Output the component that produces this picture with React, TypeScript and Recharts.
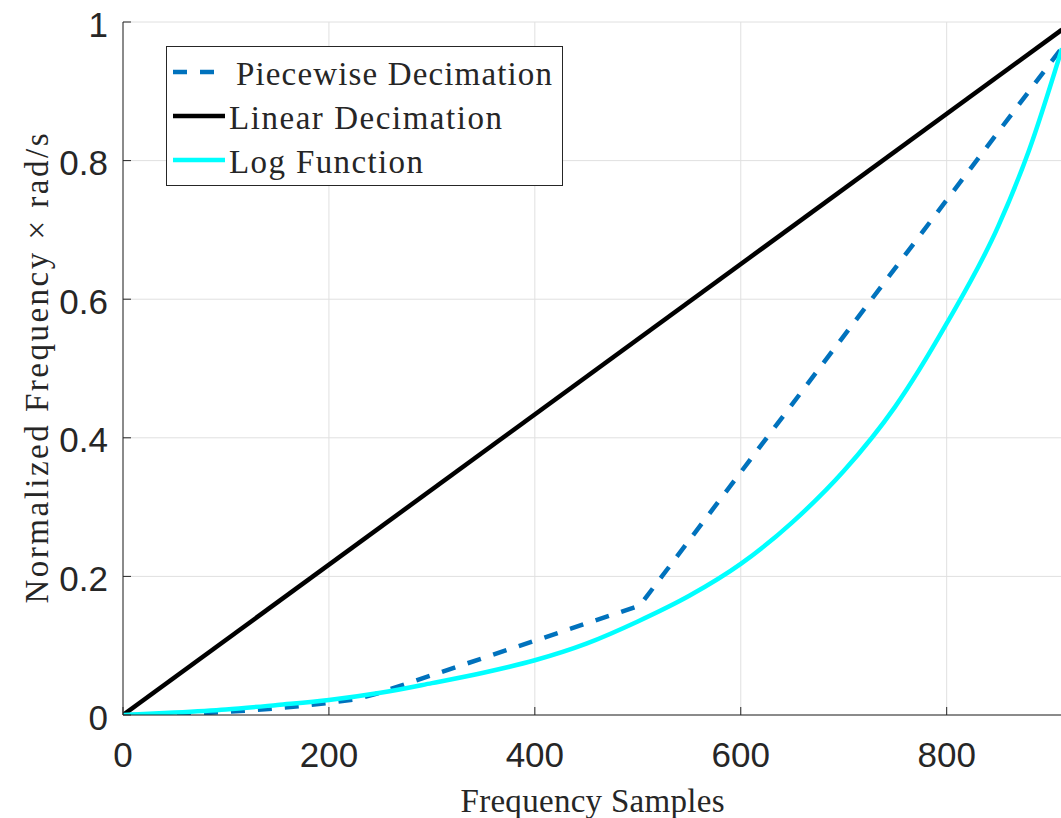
import { LineChart, Line, XAxis, YAxis, CartesianGrid, Legend } from 'recharts';

// frequency sample positions and normalized frequency values
const linearX = [0, 912];
const linearY = [0, 0.989];

const piecewiseX = [0, 25, 50, 75, 100, 125, 150, 175, 200, 225, 245, 502, 912];
const piecewiseY = [0, 0.0002, 0.001, 0.0024, 0.0045, 0.0068, 0.0098, 0.0132, 0.0175, 0.0225, 0.03, 0.158, 0.963];

const logX = [0, 50, 100, 150, 200, 250, 300, 350, 400, 450, 500, 550, 600, 650, 700, 750, 800, 850, 880, 912];
const logY = [0, 0.0035, 0.008, 0.0145, 0.0216, 0.032, 0.046, 0.061, 0.079, 0.103, 0.135, 0.172, 0.218, 0.278, 0.352, 0.445, 0.565, 0.705, 0.815, 0.962];

const xTicks = [0, 200, 400, 600, 800];
const yTicks = [0, 0.2, 0.4, 0.6, 0.8, 1];

const toPoints = (xs: number[], ys: number[]) => xs.map((x, i) => ({ x, y: ys[i] }));

const piecewiseData = toPoints(piecewiseX, piecewiseY);
const linearData = toPoints(linearX, linearY);
const logData = toPoints(logX, logY);

const AXIS = '#262626';
const SANS = '"Liberation Sans", Arial, Helvetica, sans-serif';
const SERIF = '"Liberation Serif", "Times New Roman", serif';

const LEGEND = [
  { name: 'Piecewise Decimation', color: '#0072BD', dash: '14 13', textX: 70, width: 316 },
  { name: 'Linear Decimation', color: '#000000', dash: undefined, textX: 63, width: 273 },
  { name: 'Log Function', color: '#00FFFF', dash: undefined, textX: 63, width: 194 },
];

const XTick = (props: any) => (
  <text x={props.x} y={props.y} dy={25} textAnchor="middle" fill={AXIS} fontSize={35} fontFamily={SANS}>
    {props.payload.value}
  </text>
);

const YTick = (props: any) => (
  <text x={props.x} y={props.y} dy={14.5} textAnchor="end" fill={AXIS} fontSize={35} fontFamily={SANS}>
    {props.payload.value}
  </text>
);

const noTick = () => <g />;

const XTitle = (props: any) => {
  const vb = props.viewBox;
  return (
    <text x={vb.x + vb.width / 2} y={vb.y + 97} textAnchor="middle" fill={AXIS} fontSize={33}
      fontFamily={SERIF} textLength={264} lengthAdjust="spacing">
      Frequency Samples
    </text>
  );
};

const YTitle = (props: any) => {
  const vb = props.viewBox;
  const cx = 48;
  const cy = vb.y + vb.height / 2;
  return (
    <text x={cx} y={cy} transform={`rotate(-90, ${cx}, ${cy})`} textAnchor="middle" fill={AXIS}
      fontSize={33} fontFamily={SERIF} textLength={470} lengthAdjust="spacing">
      Normalized Frequency × rad/s
    </text>
  );
};

const renderLegend = () => (
  <svg width={397} height={140} style={{ display: 'block' }}>
    <rect x={0.5} y={0.5} width={396} height={139} fill="#ffffff" stroke={AXIS} strokeWidth={1} />
    {LEGEND.map((item, i) => (
      <g key={item.name}>
        <line x1={7} x2={59} y1={26 + i * 44} y2={26 + i * 44} stroke={item.color} strokeWidth={4.5}
          strokeDasharray={item.dash} />
        <text x={item.textX} y={38.5 + i * 44} fill={AXIS} fontSize={33} fontFamily={SERIF}
          textLength={item.width} lengthAdjust="spacing">
          {item.name}
        </text>
      </g>
    ))}
  </svg>
);

export default function App() {
  return (
    <div style={{ position: 'absolute', left: 0, top: 0, width: 1061, height: 818, overflow: 'hidden', background: '#fff' }}>
      <LineChart width={1062} height={818} margin={{ top: 22, right: 0, bottom: 0, left: 0 }}>
        <CartesianGrid stroke="#e0e0e0" strokeWidth={1} />
        <XAxis dataKey="x" type="number" domain={[0, 912]} ticks={xTicks} allowDataOverflow
          height={103} stroke={AXIS} tickSize={-8} tickMargin={35} tick={XTick} label={XTitle} />
        <XAxis xAxisId="top" orientation="top" type="number" domain={[0, 912]} ticks={xTicks}
          allowDataOverflow height={0} stroke={AXIS} tickSize={-8} tick={noTick} />
        <YAxis type="number" domain={[0, 1]} ticks={yTicks} allowDataOverflow width={123}
          stroke={AXIS} tickSize={-8} tickMargin={23} tick={YTick} label={YTitle} />
        <YAxis yAxisId="right" orientation="right" type="number" domain={[0, 1]} ticks={yTicks}
          allowDataOverflow width={0} stroke={AXIS} tickSize={-8} tick={noTick} />
        <Legend layout="horizontal" verticalAlign="middle" align="center"
          wrapperStyle={{ left: 166, top: 46, width: 397, height: 140 }} content={renderLegend} />
        <Line data={piecewiseData} dataKey="y" type="linear" stroke="#0072BD" strokeWidth={4.5}
          strokeDasharray="14 13" dot={false} activeDot={false} isAnimationActive={false} />
        <Line data={linearData} dataKey="y" type="linear" stroke="#000000" strokeWidth={4.5}
          dot={false} activeDot={false} isAnimationActive={false} />
        <Line data={logData} dataKey="y" type="monotone" stroke="#00FFFF" strokeWidth={4.5}
          dot={false} activeDot={false} isAnimationActive={false} />
      </LineChart>
    </div>
  );
}
